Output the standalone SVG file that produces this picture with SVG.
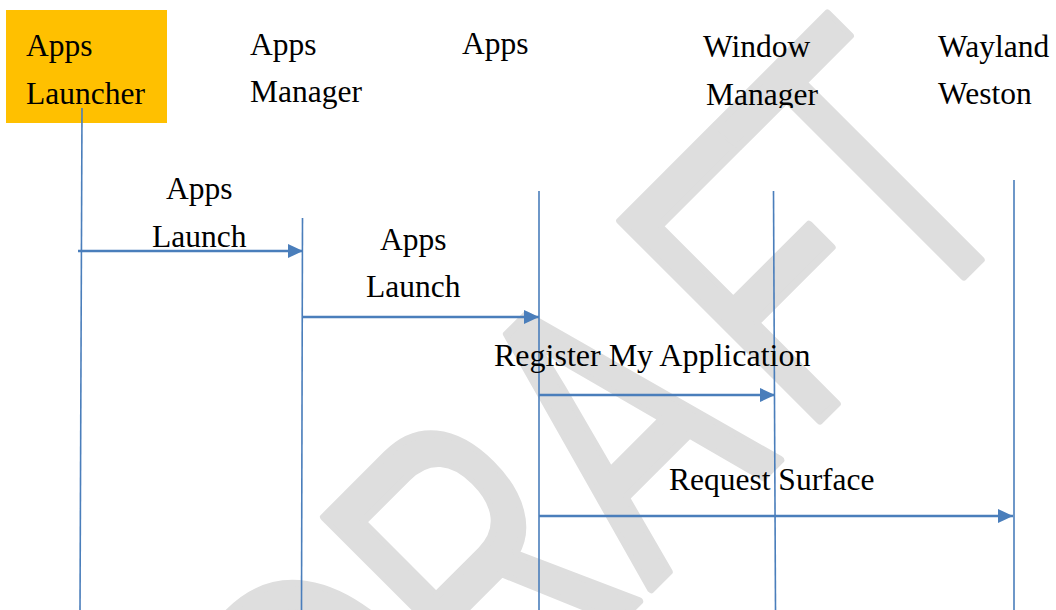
<svg xmlns="http://www.w3.org/2000/svg" width="1056" height="610" viewBox="0 0 1056 610">
  <defs>
    <style>
      .lbl { font-family: "Liberation Serif", "Times New Roman", serif; font-size: 31.5px; fill: #000; }
      .life { stroke: #4a7ebb; stroke-width: 1.6; fill: none; }
      .msg { stroke: #4a7ebb; stroke-width: 2.6; fill: none; marker-end: url(#arrow); }
      .wm { font-family: "Liberation Sans", Arial, sans-serif; font-size: 410px; fill: #dedede; stroke: #dedede; stroke-width: 8; stroke-linejoin: round; }
    </style>
    <marker id="arrow" markerUnits="userSpaceOnUse" markerWidth="16" markerHeight="14" refX="15" refY="7" orient="auto">
      <path d="M0,0 L15,7 L0,14 z" fill="#4a7ebb"/>
    </marker>
    <clipPath id="clipTop">
      <rect x="0" y="0" width="1056" height="108"/>
    </clipPath>
  </defs>
  <rect width="1056" height="610" fill="#ffffff"/>

  <g id="watermark" transform="rotate(-45)">
    <text class="wm" transform="scale(0.68,1)" x="-525 -236 62 380 607" y="877">DRAFT</text>
  </g>

  <g id="node-apps-launcher">
    <rect x="6" y="10" width="161" height="113" fill="#ffc000"/>
    <text class="lbl" x="26" y="56">Apps</text>
    <text class="lbl" x="26" y="104">Launcher</text>
  </g>
  <g id="node-apps-manager">
    <text class="lbl" x="250" y="55">Apps</text>
    <text class="lbl" x="250" y="102">Manager</text>
  </g>
  <g id="node-apps">
    <text class="lbl" x="462" y="54">Apps</text>
  </g>
  <g id="node-window-manager" clip-path="url(#clipTop)">
    <text class="lbl" x="703" y="57">Window</text>
    <text class="lbl" x="706" y="105">Manager</text>
  </g>
  <g id="node-wayland-weston" clip-path="url(#clipTop)">
    <text class="lbl" x="938" y="57">Wayland</text>
    <text class="lbl" x="938" y="104">Weston</text>
  </g>

  <g id="connectors">
    <line class="life" x1="82" y1="108" x2="80" y2="610"/>
    <line class="life" x1="302.5" y1="218" x2="301.5" y2="610"/>
    <line class="life" x1="539" y1="191" x2="539" y2="610"/>
    <line class="life" x1="773.5" y1="191" x2="775.5" y2="610"/>
    <line class="life" x1="1014" y1="180" x2="1014" y2="610"/>

    <line class="msg" x1="78" y1="251" x2="303" y2="251"/>
    <line class="msg" x1="302" y1="317" x2="539" y2="317"/>
    <line class="msg" x1="539" y1="395" x2="775" y2="395"/>
    <line class="msg" x1="539" y1="516" x2="1013" y2="516"/>

    <text class="lbl" x="166" y="199">Apps</text>
    <text class="lbl" x="152" y="247">Launch</text>
    <text class="lbl" x="380" y="250">Apps</text>
    <text class="lbl" x="366" y="297">Launch</text>
    <text class="lbl" x="494" y="366" style="font-size:32px">Register My Application</text>
    <text class="lbl" x="669" y="490">Request Surface</text>
  </g>
</svg>
